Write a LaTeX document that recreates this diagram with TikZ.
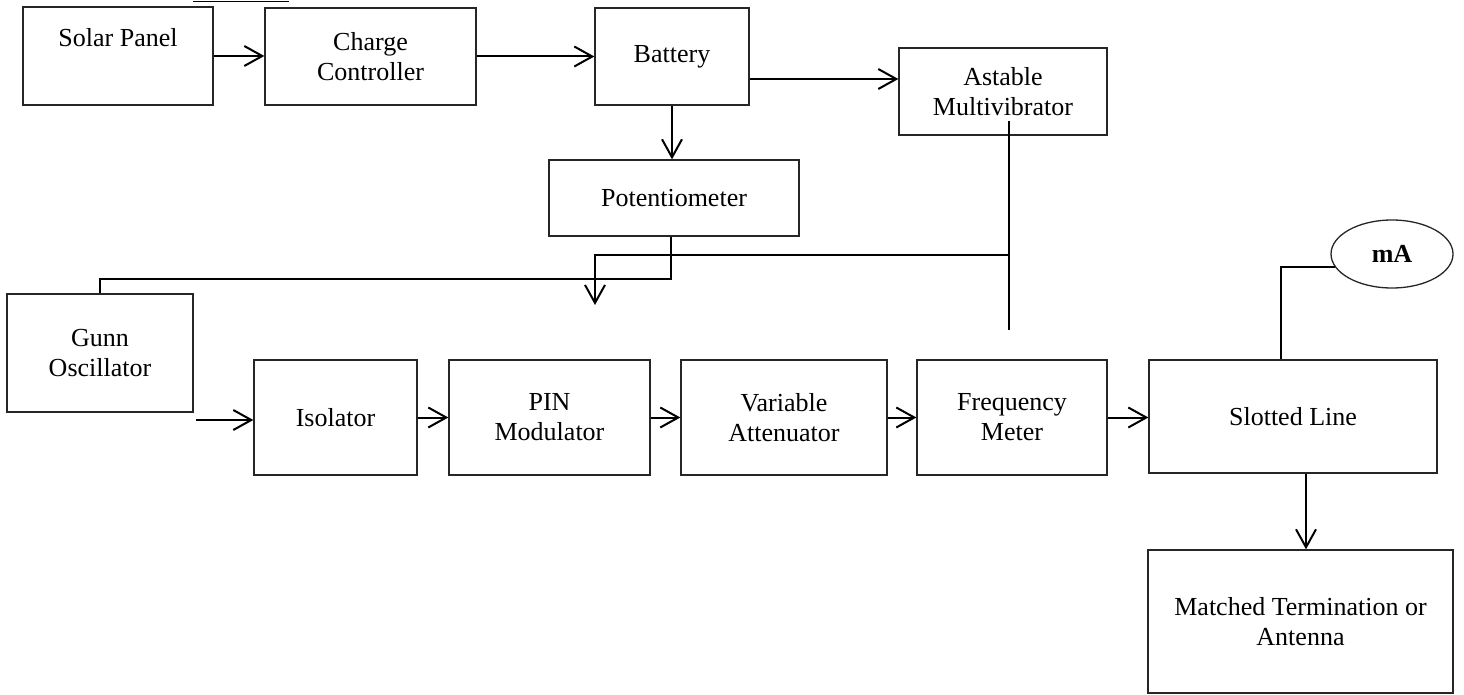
\documentclass[tikz,border=0pt]{standalone}
\usepackage{fontspec}
\setmainfont{Liberation Serif}
\usetikzlibrary{arrows.meta,shapes.geometric}
\begin{document}
\begin{tikzpicture}[x=1pt,y=-1pt,
  blk/.style={draw=black!85,line width=1.3pt,inner sep=0pt,align=center,
    font=\fontsize{26}{30}\selectfont},
  conn/.style={line width=2pt,black},
  arr/.style={conn,-{Straight Barb[length=18pt,width=20pt,line width=2pt]}}]
\useasboundingbox (0,0) rectangle (1464,695);
% stray rule at the very top
\draw[line width=1.5pt] (193,1.5) -- (289,1.5);
% blocks
\node[blk,minimum width=190pt,minimum height=98pt] (solar) at (118,56) {\raisebox{38pt}{Solar Panel}};
\node[blk,minimum width=211pt,minimum height=97pt] (charge) at (370.5,56.5) {Charge\\Controller};
\node[blk,minimum width=154pt,minimum height=97pt] (battery) at (672,56.5) {\raisebox{-6pt}{Battery}};
\node[blk,minimum width=208pt,minimum height=87pt] (astable) at (1003,91.5) {Astable\\Multivibrator};
\node[blk,minimum width=250pt,minimum height=76pt] (pot) at (674,198) {Potentiometer};
\node[blk,minimum width=186pt,minimum height=118pt] (gunn) at (100,353) {Gunn\\Oscillator};
\node[blk,minimum width=163pt,minimum height=115pt] (iso) at (335.5,417.5) {Isolator};
\node[blk,minimum width=201pt,minimum height=115pt] (pin) at (549.5,417.5) {PIN\\Modulator};
\node[blk,minimum width=206pt,minimum height=115pt] (var) at (784,417.5) {Variable\\Attenuator};
\node[blk,minimum width=190pt,minimum height=115pt] (freq) at (1012,417.5) {Frequency\\Meter};
\node[blk,minimum width=288pt,minimum height=113pt] (slot) at (1293,416.5) {Slotted Line};
\node[blk,minimum width=305pt,minimum height=143pt] (match) at (1300.5,621.5) {Matched Termination or\\Antenna};
\node[blk,ellipse,minimum width=122pt,minimum height=68pt,font=\fontsize{26}{30}\selectfont\bfseries] (mA) at (1392,254) {mA};
% helper coordinates
\coordinate (j1) at (671,279);
\coordinate (aend) at (1009,330);
\coordinate (abr) at (1009,255);
\coordinate (mod) at (595,305);
\coordinate (g0) at (196,420);
\coordinate (m0) at (1281,267);
% top row
\draw[arr] (solar.east) -- (solar.east -| charge.west);
\draw[arr] (charge.east) -- (charge.east -| battery.west);
\draw[arr] ([yshift=-22.5pt]battery.east) -- ([yshift=-22.5pt]battery.east -| astable.west);
\draw[arr] (battery.south) -- (battery.south |- pot.north);
% potentiometer to gunn
\draw[conn] (j1 |- pot.south) -- (j1) -| (gunn.north);
% astable bus
\draw[conn] ([yshift=15pt]astable.south -| aend) -- (aend);
\draw[arr] (abr) -| (mod);
% bottom chain
\draw[arr] (g0) -- (g0 -| iso.west);
\draw[arr] (iso.east) -- (pin.west);
\draw[arr] (pin.east) -- (var.west);
\draw[arr] (var.east) -- (freq.west);
\draw[arr] (freq.east) -- (freq.east -| slot.west);
% meter and termination
\draw[conn] (m0 |- slot.north) |- (mA.193);
\draw[arr] ([xshift=13pt]slot.south) -- ([xshift=13pt]slot.south |- match.north);
\end{tikzpicture}
\end{document}
